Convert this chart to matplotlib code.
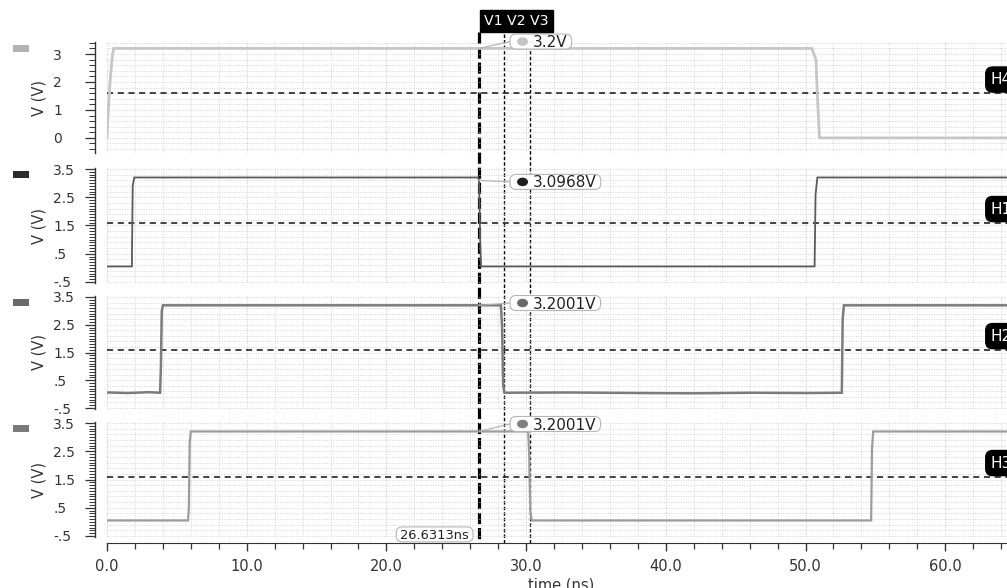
import numpy as np
import matplotlib
matplotlib.use("Agg")
import matplotlib.pyplot as plt
from matplotlib.ticker import FixedLocator, FixedFormatter, MultipleLocator
from matplotlib.transforms import blended_transform_factory, IdentityTransform
from matplotlib.lines import Line2D
from matplotlib.patches import Rectangle, FancyBboxPatch, Ellipse

# ---- waveform data (time in ns, voltage in V) ----
t_h4 = [0.0, 0.05, 0.12, 0.25, 0.4, 0.48, 26.6313, 50.45, 50.75, 50.85, 51.0, 64.5]
v_h4 = [0.0, 0.6, 1.2, 2.2, 3.0, 3.2, 3.2, 3.2, 2.8, 1.5, 0.0, 0.0]

t_h1 = [0.0, 1.78, 1.84, 1.95, 26.55, 26.6313, 26.72, 26.78, 50.65, 50.72, 50.85, 64.5]
v_h1 = [0.05, 0.05, 2.9, 3.2, 3.2, 3.0968, 0.8, 0.05, 0.05, 2.6, 3.2, 3.2]

t_h2 = [0.0, 1.5, 3.0, 3.8, 3.86, 3.92, 4.0, 26.6313, 28.2, 28.28, 28.36, 28.45,
        33.0, 38.0, 42.0, 46.0, 50.0, 52.6, 52.66, 52.75, 64.5]
v_h2 = [0.06, 0.04, 0.07, 0.05, 1.0, 3.0, 3.2, 3.2001, 3.2, 2.4, 0.3, 0.05,
        0.06, 0.04, 0.03, 0.05, 0.04, 0.05, 2.7, 3.2, 3.2]

t_h3 = [0.0, 5.8, 5.86, 5.92, 6.0, 26.6313, 30.15, 30.22, 30.3, 30.4,
        54.7, 54.76, 54.85, 64.5]
v_h3 = [0.05, 0.05, 0.5, 2.8, 3.2, 3.2001, 3.2, 2.4, 0.4, 0.05,
        0.05, 2.6, 3.2, 3.2]

threshold = 1.6
cursors = [26.6313, 28.4, 30.25]               # V1, V2, V3
cursor_values = [3.2, 3.0968, 3.2001, 3.2001]  # trace values read at V1
hline_names = ["H4", "H1", "H2", "H3"]

ticks_top = [0, 1, 2, 3]
ticklabels_top = ["0", "1", "2", "3"]
ticks_std = [-0.5, 0.5, 1.5, 2.5, 3.5]
ticklabels_std = ["-.5", ".5", "1.5", "2.5", "3.5"]
xticks = [0, 10, 20, 30, 40, 50, 60]
xticklabels = ["0.0", "10.0", "20.0", "30.0", "40.0", "50.0", "60.0"]

# ---- figure layout (pixel based) ----
W, H = 1007, 588
fig = plt.figure(figsize=(W / 100, H / 100), dpi=100)
fig.patch.set_facecolor("white")
ident = IdentityTransform()

panel_px = [(42.0, 153.0), (167.6, 283.4), (295.6, 409.4), (421.6, 537.4)]
ylims = [(-0.54, 3.43), (-0.55, 3.55), (-0.55, 3.55), (-0.55, 3.55)]
traces = [(t_h4, v_h4), (t_h1, v_h1), (t_h2, v_h2), (t_h3, v_h3)]
line_colors = ["#c6c6c6", "#5a5a5a", "#7c7c7c", "#9c9c9c"]
line_widths = [2.0, 1.3, 1.8, 1.6]
swatch_colors = ["#b3b3b3", "#2b2b2b", "#6a6a6a", "#7a7a7a"]
dot_colors = ["#c4c4c4", "#1e1e1e", "#6a6a6a", "#808080"]
callout_dy = [6.9, -1.5, 2.3, 7.5]     # box centre above the probed point, px
XMAX = 900 / 13.97
txt = "#333333"
grid_c = "#d4d4d4"

axes = []
for i, (top, bot) in enumerate(panel_px):
    ax = fig.add_axes([107 / W, 1 - bot / H, 900 / W, (bot - top) / H])
    ax.set_zorder(1)
    ax.patch.set_facecolor("none")
    ax.set_xlim(0, XMAX)
    ax.set_ylim(*ylims[i])
    for s in ("top", "right", "bottom"):
        ax.spines[s].set_visible(False)
    ax.spines["left"].set_position(("outward", 8.6))
    ax.spines["left"].set_color(txt)
    ax.spines["left"].set_linewidth(1.0)

    # dotted background grid
    for gx in np.arange(0, XMAX, 2):
        ax.axvline(gx, color="#c8c8c8" if gx % 10 == 0 else grid_c,
                   lw=0.7, ls=(0, (1, 1.5)), zorder=0.5)
    y0 = 0.0 if i == 0 else -0.5
    lo, hi = ylims[i]
    for gy in np.arange(y0 - 1.0, hi + 0.01, 0.2):
        if gy >= lo - 1e-6:
            ax.axhline(gy, color=grid_c, lw=0.7, ls=(0, (1, 1.5)), zorder=0.5)

    # y ticks
    if i == 0:
        ax.yaxis.set_major_locator(FixedLocator(ticks_top))
        ax.yaxis.set_major_formatter(FixedFormatter(ticklabels_top))
        ax.yaxis.set_minor_locator(MultipleLocator(0.2))
    else:
        ax.yaxis.set_major_locator(FixedLocator(ticks_std))
        ax.yaxis.set_major_formatter(FixedFormatter(ticklabels_std))
        ax.yaxis.set_minor_locator(MultipleLocator(0.1))
    ax.tick_params(axis="y", which="major", length=7, width=0.9, direction="out",
                   pad=23, labelsize=10, color=txt, labelcolor=txt)
    ax.tick_params(axis="y", which="minor", length=4.5, width=0.7,
                   direction="out", color=txt)
    for lbl in ax.get_yticklabels():
        lbl.set_horizontalalignment("left")
    ax.set_ylabel("V (V)", fontsize=10.5, color=txt)
    ax.yaxis.set_label_coords(-0.0667, 0.5)

    if i < 3:
        ax.tick_params(axis="x", which="both", bottom=False, labelbottom=False)

    # trace
    tt, vv = traces[i]
    ax.plot(tt, vv, color=line_colors[i], lw=line_widths[i], zorder=3,
            solid_joinstyle="miter")

    # threshold line and its tag
    ax.axhline(threshold, color="#111111", lw=1.1, ls=(0, (4, 3)), zorder=2.5)
    ax.annotate(hline_names[i], xy=(0.982, threshold),
                xycoords=("axes fraction", "data"), xytext=(0, 4.4),
                textcoords="offset points", ha="left", va="bottom",
                fontsize=11, color="white", zorder=6,
                bbox=dict(boxstyle="round,pad=0.33,rounding_size=0.45",
                          fc="black", ec="black"))

    # trace colour swatch
    fig.add_artist(Rectangle((13 / W, 1 - (top + 10) / H), 16 / W, 7 / H,
                             transform=fig.transFigure, fc=swatch_colors[i],
                             ec="none"))
    axes.append(ax)

ax4 = axes[-1]
ax4.spines["bottom"].set_visible(True)
ax4.spines["bottom"].set_position(("outward", 4.3))
ax4.spines["bottom"].set_color(txt)
ax4.xaxis.set_major_locator(FixedLocator(xticks))
ax4.xaxis.set_major_formatter(FixedFormatter(xticklabels))
ax4.xaxis.set_minor_locator(MultipleLocator(2))
ax4.tick_params(axis="x", which="major", length=6, width=1.0, direction="out",
                pad=5, labelsize=10.5, color=txt, labelcolor=txt)
ax4.tick_params(axis="x", which="minor", length=4, width=0.9,
                direction="out", color=txt)
ax4.set_xlabel("time (ns)", fontsize=10.5, color=txt)
ax4.xaxis.set_label_coords(0.505, -0.342)

renderer = fig.canvas.get_renderer()


def readout(ax, px, cy, label, fs, x_text, align, box_h, dot_color=None):
    """Rounded white readout box whose centre line is at display y=cy."""
    cap = 0.73 * fs * 100 / 72
    t = ax.text(px + x_text, cy - cap / 2, label, transform=ident,
                ha=align, va="baseline", fontsize=fs, color="#222222",
                zorder=8, clip_on=False)
    bb = t.get_window_extent(renderer)
    if dot_color is None:
        x0, x1 = bb.x0 - 4, bb.x1 + 4
    else:
        x0, x1 = px + 31, bb.x1 + 4
        ax.add_patch(Ellipse((px + 43.5, cy), 11, 8.5, transform=ident,
                             fc=dot_color, ec="none", zorder=7.5,
                             clip_on=False))
    ax.add_patch(FancyBboxPatch((x0, cy - box_h / 2), x1 - x0, box_h,
                                boxstyle="round,pad=0,rounding_size=6",
                                transform=ident, fc="white", ec="#b5b5b5",
                                lw=0.8, zorder=7, clip_on=False))
    return x0


# value callouts at the V1 cursor
for i, ax in enumerate(axes):
    val = cursor_values[i]
    px, py = ax.transData.transform((cursors[0], val))
    cy = py + callout_dy[i]
    x0 = readout(ax, px, cy, f"{val:g}V", 11, 54, "left", 15, dot_colors[i])
    ax.add_line(Line2D([px, x0], [py, cy], transform=ident, color="#b0b0b0",
                       lw=0.8, zorder=6, clip_on=False))

# time readout of the main cursor
px4, _ = ax4.transData.transform((cursors[0], 0))
bottom4 = ax4.transAxes.transform((0, 0))[1]
readout(ax4, px4, bottom4 + 3, f"{cursors[0]:.4f}ns", 9.4, -10, "right", 15)

# vertical cursors spanning all panels
btf = blended_transform_factory(ax4.transData, fig.transFigure)
styles = [dict(lw=2.3, ls=(0, (3.5, 1.2))), dict(lw=1.0, ls=(0, (2.5, 1.5))),
          dict(lw=1.0, ls=(0, (2.5, 1.5)))]
tops = [32, 34, 34]
for c, st, tp in zip(cursors, styles, tops):
    fig.add_artist(Line2D([c, c], [1 - tp / H, 1 - 543 / H], transform=btf,
                          color="black", zorder=0.5, **st))

# cursor header tag
ax_top = axes[0]
ax_top.annotate("V1 V2 V3", xy=(cursors[0], 1 - 21 / H),
                xycoords=blended_transform_factory(ax_top.transData,
                                                   fig.transFigure),
                xytext=(3.4, 0), textcoords="offset points", ha="left",
                va="center", fontsize=10.2, color="white", zorder=9,
                annotation_clip=False,
                bbox=dict(boxstyle="square,pad=0.3", fc="black", ec="black"))

fig.savefig("out.png", dpi=100, facecolor="white")
